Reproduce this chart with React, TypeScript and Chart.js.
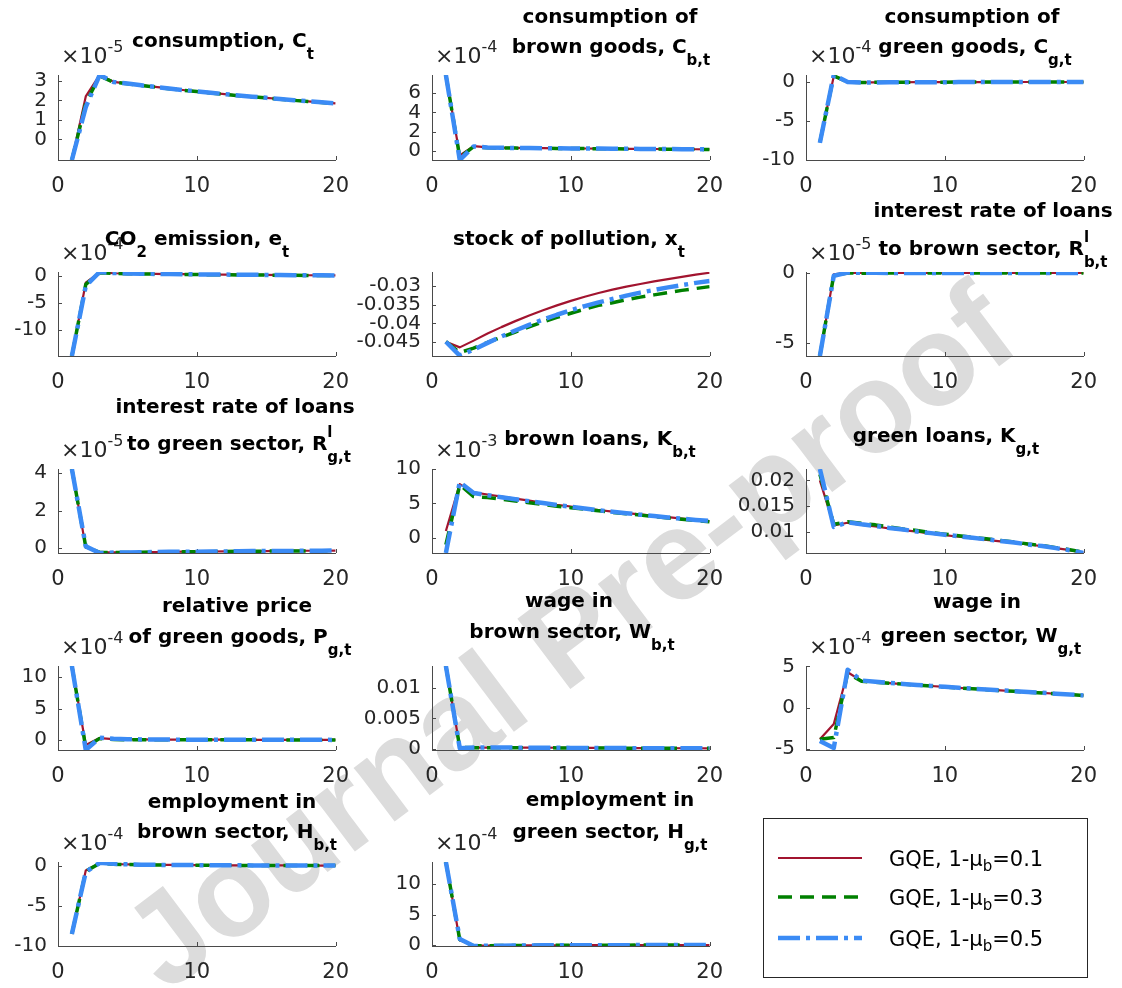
import React, { useEffect, useRef } from "react";
import { Chart, registerables } from "chart.js";

Chart.register(...registerables);

const FONT = '"DejaVu Sans", "Liberation Sans", sans-serif';
const RED = "#A2142F";
const GREEN = "#008000";
const BLUE = "#3B8BF5";
const AXIS = "#4a4a4a";
const TEXT = "#262626";

// ---------------- data ----------------
const periods = [1, 2, 3, 4, 5, 6, 7, 8, 9, 10, 11, 12, 13, 14, 15, 16, 17, 18, 19, 20];
const xTicks = [0, 10, 20];

// consumption C_t (x10^-5)
const cRed = [-1.06, 2.2, 3.3, 2.95, 2.86, 2.77, 2.69, 2.61, 2.53, 2.46, 2.39, 2.32, 2.25, 2.19, 2.13, 2.07, 2.01, 1.95, 1.9, 1.84];
const cGreen = [-1.06, 1.85, 3.25, 2.93, 2.85, 2.76, 2.68, 2.6, 2.52, 2.45, 2.38, 2.31, 2.24, 2.18, 2.12, 2.06, 2.0, 1.94, 1.89, 1.83];
const cBlue = [-1.06, 1.65, 3.3, 2.94, 2.86, 2.77, 2.69, 2.61, 2.53, 2.46, 2.39, 2.32, 2.25, 2.19, 2.13, 2.07, 2.01, 1.95, 1.9, 1.84];

// consumption of brown goods C_b (x10^-4)
const cbRed = [7.9, -0.5, 0.48, 0.35, 0.31, 0.29, 0.27, 0.26, 0.25, 0.24, 0.23, 0.22, 0.21, 0.2, 0.19, 0.18, 0.17, 0.16, 0.15, 0.14];
const cbGreen = [7.9, -0.7, 0.42, 0.3, 0.28, 0.27, 0.26, 0.25, 0.24, 0.23, 0.22, 0.21, 0.2, 0.19, 0.18, 0.17, 0.16, 0.15, 0.14, 0.13];
const cbBlue = [7.9, -0.97, 0.45, 0.33, 0.3, 0.28, 0.27, 0.26, 0.25, 0.24, 0.23, 0.22, 0.21, 0.2, 0.19, 0.18, 0.17, 0.16, 0.15, 0.14];

// consumption of green goods C_g (x10^-4)
const cgRed = [-7.7, 0.75, 0.05, -0.05, -0.04, -0.03, -0.03, -0.02, -0.02, -0.02, -0.01, -0.01, -0.01, -0.01, 0, 0, 0, 0, 0, 0];
const cgGreen = [-7.75, 0.8, 0.0, -0.06, -0.04, -0.03, -0.03, -0.02, -0.02, -0.02, -0.01, -0.01, -0.01, -0.01, 0, 0, 0, 0, 0, 0];
const cgBlue = [-7.8, 0.9, 0.0, -0.08, -0.05, -0.04, -0.03, -0.02, -0.02, -0.02, -0.01, -0.01, -0.01, -0.01, 0, 0, 0, 0, 0, 0];

// CO2 emission e_t (x10^-4)
const eRed = [-14.8, -1.3, 0.6, 0.45, 0.4, 0.36, 0.33, 0.3, 0.27, 0.24, 0.22, 0.2, 0.18, 0.16, 0.14, 0.12, 0.1, 0.08, 0.06, 0.05];
const eGreen = [-14.8, -1.6, 0.55, 0.42, 0.37, 0.33, 0.3, 0.27, 0.24, 0.21, 0.19, 0.17, 0.15, 0.13, 0.11, 0.09, 0.07, 0.05, 0.03, 0.02];
const eBlue = [-14.8, -1.9, 0.68, 0.5, 0.42, 0.37, 0.33, 0.3, 0.27, 0.24, 0.22, 0.2, 0.18, 0.16, 0.14, 0.12, 0.1, 0.08, 0.06, 0.05];

// stock of pollution x_t
const xRed = [-0.0449, -0.0464, -0.0446, -0.0427, -0.041, -0.0394, -0.0379, -0.0365, -0.0352, -0.034, -0.0329, -0.0319, -0.031, -0.0302, -0.0295, -0.0288, -0.0282, -0.0276, -0.027, -0.0265];
const xGreen = [-0.0449, -0.0478, -0.0466, -0.0451, -0.0437, -0.0423, -0.0409, -0.0396, -0.0384, -0.0373, -0.0362, -0.0352, -0.0345, -0.0337, -0.033, -0.0324, -0.0318, -0.0312, -0.0307, -0.0302];
const xBlue = [-0.0449, -0.0486, -0.047, -0.0452, -0.0435, -0.0419, -0.0404, -0.039, -0.0377, -0.0365, -0.0354, -0.0344, -0.0335, -0.0326, -0.0318, -0.0311, -0.0304, -0.0298, -0.0292, -0.0287];

// interest rate of loans to brown sector (x10^-5)
const rbRed = [-5.95, -0.1, 0.02, 0.01, 0.01, 0.01, 0, 0, 0, 0, 0, 0, 0, 0, 0, 0, 0, 0, 0, 0];
const rbGreen = [-5.95, -0.15, 0.0, -0.02, -0.02, -0.01, -0.01, -0.01, 0, 0, 0, 0, 0, 0, 0, 0, 0, 0, 0, 0];
const rbBlue = [-5.95, -0.2, 0.03, 0.01, 0.01, 0, 0, 0, 0, 0, 0, 0, 0, 0, 0, 0, 0, 0, 0, 0];

// interest rate of loans to green sector (x10^-5)
const rgRed = [4.2, 0.05, -0.2, -0.22, -0.21, -0.2, -0.2, -0.19, -0.18, -0.18, -0.17, -0.16, -0.16, -0.15, -0.15, -0.14, -0.14, -0.13, -0.13, -0.12];
const rgGreen = [4.2, 0.08, -0.22, -0.23, -0.22, -0.21, -0.2, -0.2, -0.19, -0.18, -0.18, -0.17, -0.16, -0.16, -0.15, -0.15, -0.14, -0.14, -0.13, -0.13];
const rgBlue = [4.2, 0.1, -0.25, -0.23, -0.22, -0.21, -0.2, -0.19, -0.19, -0.18, -0.17, -0.17, -0.16, -0.15, -0.15, -0.14, -0.14, -0.13, -0.13, -0.12];

// brown loans K_b (x10^-3)
const kbRed = [1.0, 7.8, 6.6, 6.3, 6.0, 5.7, 5.4, 5.1, 4.8, 4.55, 4.3, 4.05, 3.8, 3.6, 3.4, 3.2, 3.0, 2.8, 2.62, 2.45];
const kbGreen = [-1.0, 7.7, 6.0, 5.85, 5.6, 5.35, 5.1, 4.85, 4.6, 4.38, 4.15, 3.92, 3.7, 3.5, 3.3, 3.1, 2.9, 2.7, 2.52, 2.35];
const kbBlue = [-2.2, 8.1, 6.5, 6.2, 5.9, 5.6, 5.33, 5.05, 4.78, 4.52, 4.27, 4.02, 3.78, 3.57, 3.37, 3.17, 2.97, 2.78, 2.6, 2.45];

// green loans K_g
const kgRed = [0.02, 0.0113, 0.0118, 0.0114, 0.0111, 0.0107, 0.0104, 0.0101, 0.0097, 0.0094, 0.0091, 0.0088, 0.0085, 0.0082, 0.0079, 0.0076, 0.0073, 0.0069, 0.0065, 0.006];
const kgGreen = [0.0212, 0.0115, 0.012, 0.0117, 0.0114, 0.011, 0.0106, 0.0103, 0.0099, 0.0096, 0.0093, 0.009, 0.0087, 0.0084, 0.0081, 0.0077, 0.0074, 0.007, 0.0066, 0.0061];
const kgBlue = [0.0222, 0.011, 0.0119, 0.0115, 0.0112, 0.0108, 0.0105, 0.0101, 0.0098, 0.0095, 0.0092, 0.0089, 0.0086, 0.0083, 0.008, 0.0076, 0.0073, 0.0069, 0.0065, 0.00596];

// relative price of green goods P_g (x10^-4)
const pgRed = [11.8, -0.8, 0.3, 0.15, 0.1, 0.08, 0.07, 0.06, 0.05, 0.05, 0.04, 0.04, 0.03, 0.03, 0.03, 0.02, 0.02, 0.02, 0.02, 0.01];
const pgGreen = [11.8, -1.2, 0.25, 0.06, 0.03, 0.03, 0.03, 0.03, 0.02, 0.02, 0.02, 0.02, 0.02, 0.02, 0.01, 0.01, 0.01, 0.01, 0.01, 0.01];
const pgBlue = [11.8, -1.6, 0.35, 0.18, 0.12, 0.09, 0.07, 0.06, 0.05, 0.05, 0.04, 0.04, 0.03, 0.03, 0.03, 0.02, 0.02, 0.02, 0.02, 0.01];

// wage in brown sector W_b
const wbRed = [0.01365, 0.0003, 0.0002, 0.0002, 0.0002, 0.0002, 0.00019, 0.00018, 0.00017, 0.00016, 0.00015, 0.00014, 0.00013, 0.00012, 0.00011, 0.0001, 0.0001, 0.00009, 0.00009, 0.00008];
const wbGreen = [0.01365, 0.0002, 0.00018, 0.00018, 0.00017, 0.00017, 0.00016, 0.00016, 0.00015, 0.00014, 0.00013, 0.00012, 0.00011, 0.0001, 0.0001, 0.00009, 0.00009, 0.00008, 0.00008, 0.00007];
const wbBlue = [0.01365, 0.0001, 0.0002, 0.0002, 0.0002, 0.00019, 0.00018, 0.00017, 0.00016, 0.00015, 0.00014, 0.00013, 0.00012, 0.00011, 0.0001, 0.0001, 0.00009, 0.00009, 0.00008, 0.00008];

// wage in green sector W_g (x10^-4)
const wgRed = [-3.8, -1.95, 4.3, 3.25, 3.12, 2.99, 2.87, 2.75, 2.63, 2.52, 2.41, 2.3, 2.2, 2.1, 2.0, 1.9, 1.8, 1.7, 1.6, 1.5];
const wgGreen = [-3.8, -3.6, 4.2, 3.2, 3.1, 2.98, 2.86, 2.74, 2.62, 2.51, 2.4, 2.29, 2.19, 2.09, 1.99, 1.89, 1.79, 1.69, 1.59, 1.49];
const wgBlue = [-4.0, -4.85, 4.6, 3.3, 3.14, 3.0, 2.88, 2.76, 2.64, 2.53, 2.42, 2.31, 2.21, 2.11, 2.01, 1.91, 1.81, 1.71, 1.61, 1.5];

// employment in brown sector H_b (x10^-4)
const hbRed = [-8.5, -0.6, 0.3, 0.2, 0.15, 0.12, 0.1, 0.08, 0.07, 0.06, 0.05, 0.04, 0.04, 0.03, 0.03, 0.02, 0.02, 0.02, 0.01, 0.01];
const hbGreen = [-8.5, -0.7, 0.28, 0.18, 0.13, 0.1, 0.08, 0.07, 0.06, 0.05, 0.04, 0.04, 0.03, 0.03, 0.02, 0.02, 0.02, 0.01, 0.01, 0.01];
const hbBlue = [-8.5, -0.8, 0.35, 0.22, 0.16, 0.12, 0.1, 0.08, 0.07, 0.06, 0.05, 0.04, 0.04, 0.03, 0.03, 0.02, 0.02, 0.02, 0.01, 0.01];

// employment in green sector H_g (x10^-4)
const hgRed = [13.6, 0.8, -0.1, -0.1, -0.08, -0.06, -0.05, -0.04, -0.03, -0.02, -0.02, -0.01, -0.01, -0.01, 0, 0, 0, 0, 0, 0];
const hgGreen = [13.6, 0.9, -0.12, -0.1, -0.08, -0.06, -0.05, -0.04, -0.03, -0.02, -0.02, -0.01, -0.01, -0.01, 0, 0, 0, 0, 0, 0];
const hgBlue = [13.6, 1.0, -0.15, -0.12, -0.09, -0.07, -0.05, -0.04, -0.03, -0.02, -0.02, -0.01, -0.01, -0.01, 0, 0, 0, 0, 0, 0];

const legendLabels = ["0.1", "0.3", "0.5"];
const watermarkText = "Journal Pre-proof";

// ---------------- layout ----------------
const colLeft = [58, 432, 806];
const colRight = [339, 713, 1087];
const rowTop = [68, 265, 462, 659, 855];
const rowBottom = [160, 356, 553, 750, 946];

type Seg = { t: string; k?: "sub" | "sup"; stack?: boolean };
type TitleLine = { segs: Seg[]; cx: number; by: number };
type Panel = {
  row: number;
  col: number;
  yMin: number;
  yMax: number;
  yTicks: number[];
  exp?: string;
  red: number[];
  green: number[];
  blue: number[];
  title: TitleLine[];
};

const S = (t: string): Seg => ({ t });
const sub = (t: string): Seg => ({ t, k: "sub" });
const sup = (t: string): Seg => ({ t, k: "sup", stack: true });

const panels: Panel[] = [
  { row: 0, col: 0, yMin: -1.06, yMax: 3.3, yTicks: [0, 1, 2, 3], exp: "-5", red: cRed, green: cGreen, blue: cBlue,
    title: [{ segs: [S("consumption, C"), sub("t")], cx: 223, by: 47 }] },
  { row: 0, col: 1, yMin: -0.97, yMax: 7.9, yTicks: [0, 2, 4, 6], exp: "-4", red: cbRed, green: cbGreen, blue: cbBlue,
    title: [{ segs: [S("consumption of")], cx: 610, by: 23 }, { segs: [S("brown goods, C"), sub("b,t")], cx: 611, by: 53 }] },
  { row: 0, col: 2, yMin: -10, yMax: 0.9, yTicks: [-10, -5, 0], exp: "-4", red: cgRed, green: cgGreen, blue: cgBlue,
    title: [{ segs: [S("consumption of")], cx: 972, by: 23 }, { segs: [S("green goods, C"), sub("g,t")], cx: 975, by: 53 }] },
  { row: 1, col: 0, yMin: -14.8, yMax: 0.68, yTicks: [-10, -5, 0], exp: "-4", red: eRed, green: eGreen, blue: eBlue,
    title: [{ segs: [S("CO"), sub("2"), S(" emission, e"), sub("t")], cx: 197, by: 245 }] },
  { row: 1, col: 1, yMin: -0.0487, yMax: -0.0263, yTicks: [-0.045, -0.04, -0.035, -0.03], red: xRed, green: xGreen, blue: xBlue,
    title: [{ segs: [S("stock of pollution, x"), sub("t")], cx: 569, by: 245 }] },
  { row: 1, col: 2, yMin: -5.95, yMax: 0.07, yTicks: [-5, 0], exp: "-5", red: rbRed, green: rbGreen, blue: rbBlue,
    title: [{ segs: [S("interest rate of loans")], cx: 993, by: 217 }, { segs: [S("to brown sector, R"), sup("l"), sub("b,t")], cx: 993, by: 255 }] },
  { row: 2, col: 0, yMin: -0.25, yMax: 4.2, yTicks: [0, 2, 4], exp: "-5", red: rgRed, green: rgGreen, blue: rgBlue,
    title: [{ segs: [S("interest rate of loans")], cx: 235, by: 413 }, { segs: [S("to green sector, R"), sup("l"), sub("g,t")], cx: 239, by: 450 }] },
  { row: 2, col: 1, yMin: -2.2, yMax: 10, yTicks: [0, 5, 10], exp: "-3", red: kbRed, green: kbGreen, blue: kbBlue,
    title: [{ segs: [S("brown loans, K"), sub("b,t")], cx: 600, by: 445 }] },
  { row: 2, col: 2, yMin: 0.00596, yMax: 0.0222, yTicks: [0.01, 0.015, 0.02], red: kgRed, green: kgGreen, blue: kgBlue,
    title: [{ segs: [S("green loans, K"), sub("g,t")], cx: 946, by: 442 }] },
  { row: 3, col: 0, yMin: -1.6, yMax: 11.8, yTicks: [0, 5, 10], exp: "-4", red: pgRed, green: pgGreen, blue: pgBlue,
    title: [{ segs: [S("relative price")], cx: 237, by: 612 }, { segs: [S("of green goods, P"), sub("g,t")], cx: 240, by: 643 }] },
  { row: 3, col: 1, yMin: -0.0002, yMax: 0.01365, yTicks: [0, 0.005, 0.01], red: wbRed, green: wbGreen, blue: wbBlue,
    title: [{ segs: [S("wage in")], cx: 569, by: 607 }, { segs: [S("brown sector, W"), sub("b,t")], cx: 572, by: 638 }] },
  { row: 3, col: 2, yMin: -5.1, yMax: 5.05, yTicks: [-5, 0, 5], exp: "-4", red: wgRed, green: wgGreen, blue: wgBlue,
    title: [{ segs: [S("wage in")], cx: 977, by: 608 }, { segs: [S("green sector, W"), sub("g,t")], cx: 981, by: 642 }] },
  { row: 4, col: 0, yMin: -10, yMax: 0.45, yTicks: [-10, -5, 0], exp: "-4", red: hbRed, green: hbGreen, blue: hbBlue,
    title: [{ segs: [S("employment in")], cx: 232, by: 808 }, { segs: [S("brown sector, H"), sub("b,t")], cx: 237, by: 838 }] },
  { row: 4, col: 1, yMin: -0.15, yMax: 13.6, yTicks: [0, 5, 10], exp: "-4", red: hgRed, green: hgGreen, blue: hgBlue,
    title: [{ segs: [S("employment in")], cx: 610, by: 806 }, { segs: [S("green sector, H"), sub("g,t")], cx: 610, by: 838 }] },
];

const PAD_L = 80;
const PAD_T = 16;
const PAD_R = 24;
const PAD_B = 40;

const innerTicks = {
  id: "innerTicks",
  beforeDatasetsDraw(chart: any) {
    const { ctx, chartArea: a, scales } = chart;
    const x = scales.x;
    const y = scales.y;
    ctx.save();
    ctx.strokeStyle = AXIS;
    ctx.lineWidth = 1;
    ctx.beginPath();
    x.ticks.forEach((t: any) => {
      const px = Math.round(x.getPixelForValue(t.value)) + 0.5;
      ctx.moveTo(px, a.bottom);
      ctx.lineTo(px, a.bottom - 4);
    });
    y.ticks.forEach((t: any) => {
      const py = Math.round(y.getPixelForValue(t.value)) + 0.5;
      ctx.moveTo(a.left, py);
      ctx.lineTo(a.left + 4, py);
    });
    ctx.stroke();
    ctx.restore();
  },
};

function PanelChart({ p }: { p: Panel }) {
  const ref = useRef<HTMLCanvasElement | null>(null);
  const L = colLeft[p.col];
  const R = colRight[p.col];
  const T = rowTop[p.row];
  const B = rowBottom[p.row];
  useEffect(() => {
    const mk = (vals: number[]) => periods.map((x, i) => ({ x, y: vals[i] }));
    const chart = new Chart(ref.current as HTMLCanvasElement, {
      type: "line",
      data: {
        datasets: [
          { data: mk(p.blue), borderColor: BLUE, borderWidth: 4.5, borderDash: [22, 6, 4, 6], pointRadius: 0, fill: false, tension: 0, borderJoinStyle: "round", borderCapStyle: "butt" } as any,
          { data: mk(p.green), borderColor: GREEN, borderWidth: 3.5, borderDash: [14, 8], pointRadius: 0, fill: false, tension: 0, borderJoinStyle: "round", borderCapStyle: "butt" } as any,
          { data: mk(p.red), borderColor: RED, borderWidth: 2.2, pointRadius: 0, fill: false, tension: 0, borderJoinStyle: "round" } as any,
        ],
      },
      options: {
        animation: false,
        responsive: true,
        maintainAspectRatio: false,
        layout: { padding: { left: 0, top: PAD_T, right: PAD_R, bottom: 0 } },
        plugins: { legend: { display: false }, tooltip: { enabled: false }, title: { display: false } },
        events: [],
        scales: {
          x: {
            type: "linear",
            min: 0,
            max: 20,
            afterBuildTicks: (ax: any) => { ax.ticks = xTicks.map((v) => ({ value: v })); },
            afterFit: (ax: any) => { ax.height = PAD_B; },
            ticks: { font: { family: FONT, size: 21 }, color: TEXT, padding: 14, maxRotation: 0, autoSkip: false, callback: (v: any) => String(v) },
            grid: { display: false, drawTicks: false },
            border: { display: true, color: AXIS, width: 1 },
          },
          y: {
            type: "linear",
            min: p.yMin,
            max: p.yMax,
            afterBuildTicks: (ax: any) => { ax.ticks = p.yTicks.map((v) => ({ value: v })); },
            afterFit: (ax: any) => { ax.width = PAD_L; },
            ticks: { font: { family: FONT, size: 20 }, color: TEXT, padding: 11, autoSkip: false, callback: (v: any) => String(v) },
            grid: { display: false, drawTicks: false },
            border: { display: true, color: AXIS, width: 1 },
          },
        },
      } as any,
      plugins: [innerTicks],
    });
    return () => chart.destroy();
  }, []);
  const w = R - L + PAD_L + PAD_R;
  const h = B - T + PAD_T + PAD_B;
  return (
    <div style={{ position: "absolute", left: L - PAD_L, top: T - PAD_T, width: w, height: h }}>
      <canvas ref={ref} />
    </div>
  );
}

function drawRich(ctx: CanvasRenderingContext2D, segs: Seg[], cx: number, by: number, big: string, small: string) {
  const widths = segs.map((s) => {
    ctx.font = s.k ? small : big;
    return ctx.measureText(s.t).width;
  });
  let total = 0;
  segs.forEach((s, i) => { if (!s.stack) total += widths[i]; });
  let x = cx - total / 2;
  segs.forEach((s, i) => {
    ctx.font = s.k ? small : big;
    const dy = s.k === "sub" ? 12 : s.k === "sup" ? -13 : 0;
    ctx.fillText(s.t, x, by + dy);
    if (!s.stack) x += widths[i];
  });
}

function Overlay() {
  const ref = useRef<HTMLCanvasElement | null>(null);
  useEffect(() => {
    const c = ref.current as HTMLCanvasElement;
    const ctx = c.getContext("2d") as CanvasRenderingContext2D;
    ctx.clearRect(0, 0, c.width, c.height);
    ctx.textAlign = "left";
    ctx.textBaseline = "alphabetic";
    // exponent labels
    panels.forEach((p) => {
      if (!p.exp) return;
      const L = colLeft[p.col];
      const T = rowTop[p.row];
      ctx.fillStyle = TEXT;
      ctx.font = `22px ${FONT}`;
      ctx.fillText("\u00d710", L + 3, T - 5);
      const w = ctx.measureText("\u00d710").width;
      ctx.font = `16px ${FONT}`;
      ctx.fillText(p.exp, L + 3 + w, T - 16);
    });
    // titles
    ctx.fillStyle = "#000";
    panels.forEach((p) => {
      p.title.forEach((ln) => drawRich(ctx, ln.segs, ln.cx, ln.by, `bold 20px ${FONT}`, `bold 15px ${FONT}`));
    });
    // legend
    const bx = 763.5, by = 818.5, bw = 324, bh = 159;
    ctx.fillStyle = "#fff";
    ctx.fillRect(bx, by, bw, bh);
    ctx.strokeStyle = TEXT;
    ctx.lineWidth = 1;
    ctx.strokeRect(bx, by, bw, bh);
    const ys = [858, 897, 938];
    const styles = [
      { c: RED, w: 2.2, d: [] as number[] },
      { c: GREEN, w: 3.5, d: [14, 8] },
      { c: BLUE, w: 4.5, d: [22, 6, 4, 6] },
    ];
    ys.forEach((y, i) => {
      const st = styles[i];
      ctx.save();
      ctx.strokeStyle = st.c;
      ctx.lineWidth = st.w;
      ctx.setLineDash(st.d);
      ctx.beginPath();
      ctx.moveTo(778, y);
      ctx.lineTo(862, y);
      ctx.stroke();
      ctx.restore();
      ctx.fillStyle = "#000";
      let x = 889;
      ctx.font = `21px ${FONT}`;
      ctx.fillText("GQE, 1-\u03bc", x, y + 8);
      x += ctx.measureText("GQE, 1-\u03bc").width;
      ctx.font = `15px ${FONT}`;
      ctx.fillText("b", x, y + 13);
      x += ctx.measureText("b").width;
      ctx.font = `21px ${FONT}`;
      ctx.fillText("=" + legendLabels[i], x, y + 8);
    });
  }, []);
  return <canvas ref={ref} width={1122} height={988} style={{ position: "absolute", left: 0, top: 0, pointerEvents: "none" }} />;
}

function Watermark() {
  const ref = useRef<HTMLCanvasElement | null>(null);
  useEffect(() => {
    const c = ref.current as HTMLCanvasElement;
    const ctx = c.getContext("2d") as CanvasRenderingContext2D;
    ctx.clearRect(0, 0, c.width, c.height);
    ctx.save();
    ctx.translate(166, 994);
    ctx.rotate((-37 * Math.PI) / 180);
    ctx.fillStyle = "#dcdcdc";
    ctx.font = `bold 128px "Liberation Sans", Arial, sans-serif`;
    ctx.textAlign = "left";
    ctx.textBaseline = "alphabetic";
    ctx.fillText(watermarkText, 0, 0);
    ctx.restore();
  }, []);
  return <canvas ref={ref} width={1122} height={988} style={{ position: "absolute", left: 0, top: 0, pointerEvents: "none" }} />;
}

export default function App() {
  return (
    <div style={{ position: "fixed", left: 0, top: 0, width: 1122, height: 988, background: "#fff", overflow: "hidden" }}>
      <Watermark />
      {panels.map((p, i) => (
        <PanelChart key={i} p={p} />
      ))}
      <Overlay />
    </div>
  );
}
